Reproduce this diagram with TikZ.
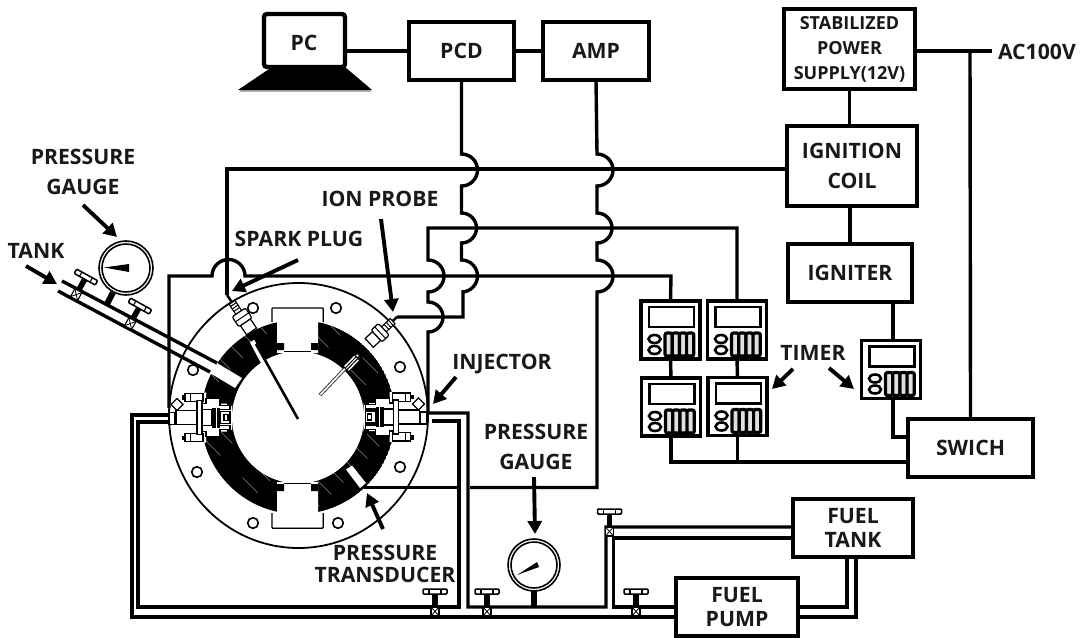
\documentclass[tikz,border=0pt]{standalone}
\usepackage{fontspec}
\setmainfont{Open Sans}
\usetikzlibrary{arrows.meta,calc}
\tikzset{
 x=1pt,y=-1pt,
 lbl/.style={font=\fontsize{21.2}{30}\selectfont\bfseries,align=center,inner sep=0pt,outer sep=0pt,text=black!90},
 box/.style={lbl,draw=black,line width=4.4pt,fill=white,inner sep=0pt,outer sep=0pt},
 timerbox/.style={draw=black,line width=3.4pt,fill=white,inner sep=0pt,outer sep=0pt,minimum width=59pt,minimum height=58pt},
 wire/.style={line width=3.4pt,line join=miter},
 arr/.style={line width=3.9pt,-{Triangle[length=13pt,width=14pt]}},
 bmpa/.style={insert path={arc[start angle=90,end angle=-90,radius=16pt]}},
 bmpb/.style={insert path={arc[start angle=90,end angle=-90,radius=15pt]}},
}
\newcommand{\valveat}[2]{%
\begin{scope}[shift={#1},rotate=#2]
 \fill (-2.8,-18) rectangle (2.8,-4);
 \draw[line width=1.5pt,fill=white,rounded corners=1pt] (-12,-23) rectangle (12,-18);
 \draw[line width=1.1pt] (-6,-23)--(-6,-18) (6,-23)--(6,-18);
 \draw[line width=1.1pt,fill=white] (-4,-5) rectangle (4,4);
 \draw[line width=.8pt] (-4,-5)--(4,4) (-4,4)--(4,-5);
\end{scope}}
\newcommand{\timerface}[1]{%
\begin{scope}[shift={(#1.north west)}]
 \draw[line width=2.8pt] (8,6) rectangle (53,26);
 \draw[line width=2.6pt] (13.5,38) ellipse[x radius=6,y radius=4];
 \draw[line width=2.6pt] (13.5,49) ellipse[x radius=6,y radius=4];
 \foreach \k in {0,1,2,3}{
  \draw[line width=3.2pt,fill=black!12,rounded corners=2pt] (24+7.2*\k,32) rectangle (31.2+7.2*\k,55);
 }
\end{scope}}
\newcommand{\injector}{%
 \fill[white] (30,-25)--(38,-25)--(38,-19)--(52,-19)--(52,-14)--(64,-14)--(64,14)--(52,14)--(52,19)--(38,19)--(38,25)--(30,25)--(30,14)--(0,8)--(0,-8)--(30,-14)--cycle;
 \foreach \s in {1,-1}{
 \begin{scope}[yscale=\s]
  \draw[line width=1.2pt,fill=white] (62,-12.3)--(52,-12.3)--(52,-19)--(38,-19)--(38,-14)--(30,-14)--(30,-8)--(62,-8)--cycle;
  \draw[line width=1.2pt,fill=white] (17,-24) rectangle (35,-15.7);
  \fill (13.5,-22.5) rectangle (18,-18);
  \fill (59,-17) rectangle (64,-12);
  \draw[line width=1pt] (22,-24)--(22,-15.7);
 \end{scope}}
 \draw[line width=1.2pt,fill=white] (9,-19) -- (15,-13) -- (9,-7) -- (3,-13) -- cycle;
 \draw[line width=1.2pt,fill=white] (8,-7) rectangle (29,7);
 \draw[line width=1.2pt,fill=white] (29,-17) rectangle (34,17);
 \draw[line width=1.2pt,fill=white] (34,-8) rectangle (44,8);
 \fill (44,-10) rectangle (52,10);
 \draw[white,line width=.7pt] (48,-10)--(48,10);
 \draw[line width=1.2pt,fill=white] (52,-6) rectangle (62,6);
 \draw[line width=1.2pt,fill=white] (56,-3) rectangle (60,3);
 \draw[line width=1.4pt,fill=white] (1,-5) rectangle (7,7);
}
\begin{document}
\begin{tikzpicture}
\useasboundingbox (0,0) rectangle (1081,637);
\fill[white] (0,0) rectangle (1081,637);

% ---- engine body
\begin{scope}
 \clip (298,417) circle[radius=97pt];
 \fill (298,417) circle[radius=97pt];
 \foreach \d in {-130,-118,...,130}{
  \draw[white,opacity=.5,line width=.5pt,dash pattern=on 22pt off 31pt] ({298+\d-110},{417-\d-110}) -- ({298+\d+110},{417-\d+110});
 }
\end{scope}
% notches
\draw[line width=1.5pt,fill=white,rounded corners=.8pt] (272,322)--(272,308)--(323,308)--(323,322);
\fill[white] (272.7,308.7)--(322.3,308.7)--(322.3,322)--(318,322)--(318,353)--(277,353)--(277,322)--(272.7,322)--cycle;
\draw[line width=1.5pt,fill=white,rounded corners=.8pt] (272,513)--(272,528)--(323,528)--(323,513);
\fill[white] (272.7,527.3)--(322.3,527.3)--(322.3,513)--(318,513)--(318,482)--(277,482)--(277,513)--(272.7,513)--cycle;
\fill (277,343) rectangle (284,350) (311,343) rectangle (318,350);
\fill (277,484) rectangle (284,491) (311,484) rectangle (318,491);
\fill[white] (298,417.5) circle[radius=66pt];
\draw[line width=1pt] (284,351.5)--(311,351.5) (284,483.5)--(311,483.5);
% slots
\fill[white] (217,363)--(242,378)--(235,388)--(210,373)--cycle;
\fill[white] (346,469.5)--(352,465.5)--(366,483)--(360,488)--cycle;
% injectors
\begin{scope}[shift={(168,417.5)}]\injector\end{scope}
\begin{scope}[shift={(427.5,417)},xscale=-1]\injector\end{scope}
% flange outline
\draw[line width=1.8pt] (298.5,415.5) ellipse[x radius=129.5,y radius=132.5];
% bolt holes
\foreach \hx/\hy in {253/308,336/308,400/367,193/370,197/472,253/523,338/523,400/467}{
 \draw[line width=1.6pt,fill=white] (\hx,\hy) circle[radius=5.3pt];
}

% spark plug
\coordinate (sparktip) at (227,295);
\draw[white,line width=5pt] (252,341)--(268,371);
\draw[line width=2.6pt] (256,344)--(298,419);
\begin{scope}[shift={(sparktip)},rotate=-56]
 \draw[line width=2.5pt] (0,0)--(9,0);
 \draw[line width=1.1pt,fill=white] (9,-3.5) rectangle (21,3.5);
 \foreach \t in {11.5,14.5,17.5}{\draw[line width=1pt] (\t,-3.5)--(\t,3.5);}
 \draw[line width=1.2pt,fill=white,rounded corners=2pt] (21,-8) rectangle (33,8);
 \draw[line width=1pt] (27,-8)--(27,8);
 \draw[line width=1.2pt,fill=white] (33,-6) rectangle (44,6);
\end{scope}
% ion probe
\coordinate (iontip) at (397,317);
\draw[line width=3.6pt,black!75] (320,395)--(358,355);
\draw[line width=1.6pt,white] (320.5,394.5)--(358,355);
\begin{scope}[shift={(346,369)},rotate=46]
 \draw[line width=1pt,fill=white] (0,-4) rectangle (16,4);
 \draw[line width=1pt] (0,-1.2)--(16,-1.2) (0,1.2)--(16,1.2);
\end{scope}
\begin{scope}[shift={(iontip)},rotate=223]
 \draw[line width=2.5pt] (0,0)--(6,0);
 \draw[line width=1.1pt,fill=white] (6,-3.5) rectangle (18,3.5);
 \foreach \t in {8.5,11.5,14.5}{\draw[line width=1pt] (\t,-3.5)--(\t,3.5);}
 \draw[line width=1.2pt,fill=white,rounded corners=2pt] (18,-8) rectangle (28,8);
 \draw[line width=1pt] (23,-8)--(23,8);
 \draw[line width=1.2pt,fill=white] (28,-6) rectangle (38,6);
\end{scope}

% tank tube
\coordinate (tubeAs) at (62,281); \coordinate (tubeAe) at (217,363);
\coordinate (tubeBs) at (58,291); \coordinate (tubeBe) at (210,372);
\draw[wire] (tubeAs)--(tubeAe) (tubeBs)--(tubeBe);

% ---- boxes
\node[box,rounded corners=3pt,minimum width=81pt,minimum height=53pt] (pc) at (304.5,40.5) {};
\node[lbl] (pctxt) at (304,43) {PC};
\fill[black!30] (240,91.5)--(371,91.5)--(371,90)--(240,90)--cycle;
\fill (238,90)--(272,67)--(345,67)--(372,90)--cycle;
\node[box,minimum width=105pt,minimum height=58pt] (pcd) at (461.5,51) {PCD};
\node[box,minimum width=106pt,minimum height=58pt] (amp) at (596,51) {AMP};
\node[box,minimum width=131pt,minimum height=80pt,font=\fontsize{18}{25}\selectfont\bfseries] (sps) at (849.5,49) {STABILIZED\\POWER\\SUPPLY(12V)};
\node[box,minimum width=130pt,minimum height=80pt] (ign) at (852,166) {IGNITION\\COIL};
\node[box,minimum width=124pt,minimum height=58pt] (igr) at (850,273) {IGNITER};
\node[box,minimum width=125pt,minimum height=58pt] (swi) at (970.5,448) {SWICH};
\node[box,minimum width=120pt,minimum height=58pt,font=\fontsize{21.2}{24.5}\selectfont\bfseries] (ftank) at (853,528) {FUEL\\TANK};
\node[box,minimum width=122pt,minimum height=58pt,font=\fontsize{21.2}{23.5}\selectfont\bfseries] (pump) at (737,607) {FUEL\\PUMP};
\node[timerbox] (t1) at (670.5,330) {};
\node[timerbox] (t2) at (737,330) {};
\node[timerbox] (t3) at (671,407) {};
\node[timerbox] (t4) at (737.5,406.5) {};
\node[timerbox] (t5) at (891,369.5) {};
\timerface{t1}\timerface{t2}\timerface{t3}\timerface{t4}\timerface{t5}

% ---- gauges
\node[circle,draw,line width=1.6pt,fill=white,minimum size=54pt,inner sep=0pt,outer sep=0pt] (g1) at (126,268) {};
\node[circle,draw,line width=1.6pt,fill=white,minimum size=48pt,inner sep=0pt] (g1i) at (126,268) {};
\fill (104,267.5)--(129,264)--(129,272)--cycle;
\node[circle,draw,line width=1.6pt,fill=white,minimum size=52pt,inner sep=0pt,outer sep=0pt] (g2) at (534,565) {};
\node[circle,draw,line width=1.6pt,fill=white,minimum size=46pt,inner sep=0pt] (g2i) at (534,565) {};
\fill (517,575)--(537,562)--(539,567)--cycle;
\coordinate (g1stem) at (107,304);
\draw[line width=6pt] (g1) ++(-13,24.5) -- (g1stem);
\coordinate (g2stem) at (534,607);
\draw[line width=6pt] (g2.south) -- (g2stem);

% ---- control connectors
\coordinate (y51) at (0,51);
\coordinate (y169) at (0,169);
\draw[wire] (pcd.west) -- (pcd.west -| pc.east);
\draw[wire] (amp.west) -- (pcd.east);
\draw[wire] (sps.south) -- (sps.south |- ign.north);
\draw[wire] (igr.north) -- (igr.north |- ign.south);
\coordinate (acend) at (992,51);
\draw[wire] (sps.east |- y51) -- (acend);
\coordinate (acj) at (970,51);
\draw[wire] (acj) -- (swi.north);
\draw[wire] (t1.south) -- (t3.north);
\draw[wire] (t2.south) -- (t4.north);
\draw[wire] (igr.south -| t5.north) ++(2,0) -- ++(0,38);
\coordinate (y462) at (0,462);
\draw[wire] (t3.south) -- (t3.south |- y462) -- (y462 -| swi.west);
\draw[wire] (t4.south) -- (t4.south |- y462);
\coordinate (y437) at (0,437);
\coordinate (x893) at (893,0);
\draw[wire] (x893 |- t5.south) -- (x893 |- y437) -- (y437 -| swi.west);
\draw[wire] (ign.west |- y169) -| (sparktip);
% timer 2 -> right injector / fuel return
\draw[wire] (t2.north) -- (737,228) -- (428,228) -- (428,260) [bmpa] -- (428,302) [bmpb] -- (428,413) -- (468,413) -- (468,607) -- (606,607) -- (606,527) -- (ftank.west |- 0,527);
% timer 1 -> left injector
\coordinate (leftinj) at (169,408);
\draw[wire] (t1.north) -- (671,276) -- (245,276) arc[start angle=0,end angle=180,radius=16.5pt] -- (169,276) -- (leftinj);
% PCD -> ion probe
\draw[wire] (pcd.south) -- (461.5,154) [bmpa] -- (461.5,213) [bmpb] -- (461.5,260) [bmpa] -- (463,292) -- (463,317) -- (iontip);
% AMP -> transducer
\coordinate (xducer) at (364,487.5);
\draw[wire] (amp.south) -- (597,154) [bmpa] -- (597,213) [bmpb] -- (597,260) [bmpa] -- (597,487.5) -- (470,487.5);
\draw[wire] (457,487.5) -- (xducer);

% ---- fuel lines
\draw[wire] (168,415) -- (132,415) -- (132,617) -- ([yshift=-10pt]pump.west);
\draw[wire] (168,422) -- (138,422) -- (138,607) -- (459,607) -- (459,421) -- (432,421);
\draw[wire] (pump.west) -- (613.5,607) -- (613.5,538) -- (ftank.west |- 0,538);
\draw[wire] (pump.east) -| ([xshift=-6pt]ftank.south);
\draw[wire] ([yshift=-10pt]pump.east) -| ([xshift=3pt]ftank.south);

% ---- valves
\valveat{(435,612)}{0}
\valveat{(487,612)}{0}
\valveat{(636,612)}{0}
\valveat{(609.5,532)}{0}
\valveat{(76,295)}{-29}
\valveat{(130,324)}{-29}

% ---- labels
\node[lbl] (lg1a) at (83,157) {PRESSURE};
\node[lbl] (lg1b) at (83,187) {GAUGE};
\node[lbl] (ltank) at (36,251) {TANK};
\node[lbl] (lspark) at (299,239) {SPARK PLUG};
\node[lbl] (lion) at (380,199) {ION PROBE};
\node[lbl] (linj) at (502,364) {INJECTOR};
\node[lbl] (lg2a) at (536,432) {PRESSURE};
\node[lbl] (lg2b) at (536,462) {GAUGE};
\node[lbl] (ltr1) at (385,553) {PRESSURE};
\node[lbl] (ltr2) at (385,575) {TRANSDUCER};
\node[lbl] (ltim) at (813,353) {TIMER};
\node[lbl,anchor=west] (lac) at (998,52) {AC100V};

% ---- arrows
\coordinate (a1s) at (83,205); \coordinate (a1e) at (117,237);
\coordinate (a2s) at (26,266); \coordinate (a2e) at (57,284);
\coordinate (a3s) at (298,260); \coordinate (a3e) at (232,291);
\coordinate (a4s) at (381,219); \coordinate (a4e) at (393,312);
\coordinate (a5s) at (456,377); \coordinate (a5e) at (433,404);
\coordinate (a6s) at (383,529); \coordinate (a6e) at (367,493);
\coordinate (a7s) at (534,477); \coordinate (a7e) at (535,534);
\coordinate (a8s) at (793,369); \coordinate (a8e) at (772,389);
\coordinate (a9s) at (829,368); \coordinate (a9e) at (854,389);
\foreach \a in {1,...,9}{\draw[arr] (a\a s) -- (a\a e);}
\end{tikzpicture}
\end{document}
